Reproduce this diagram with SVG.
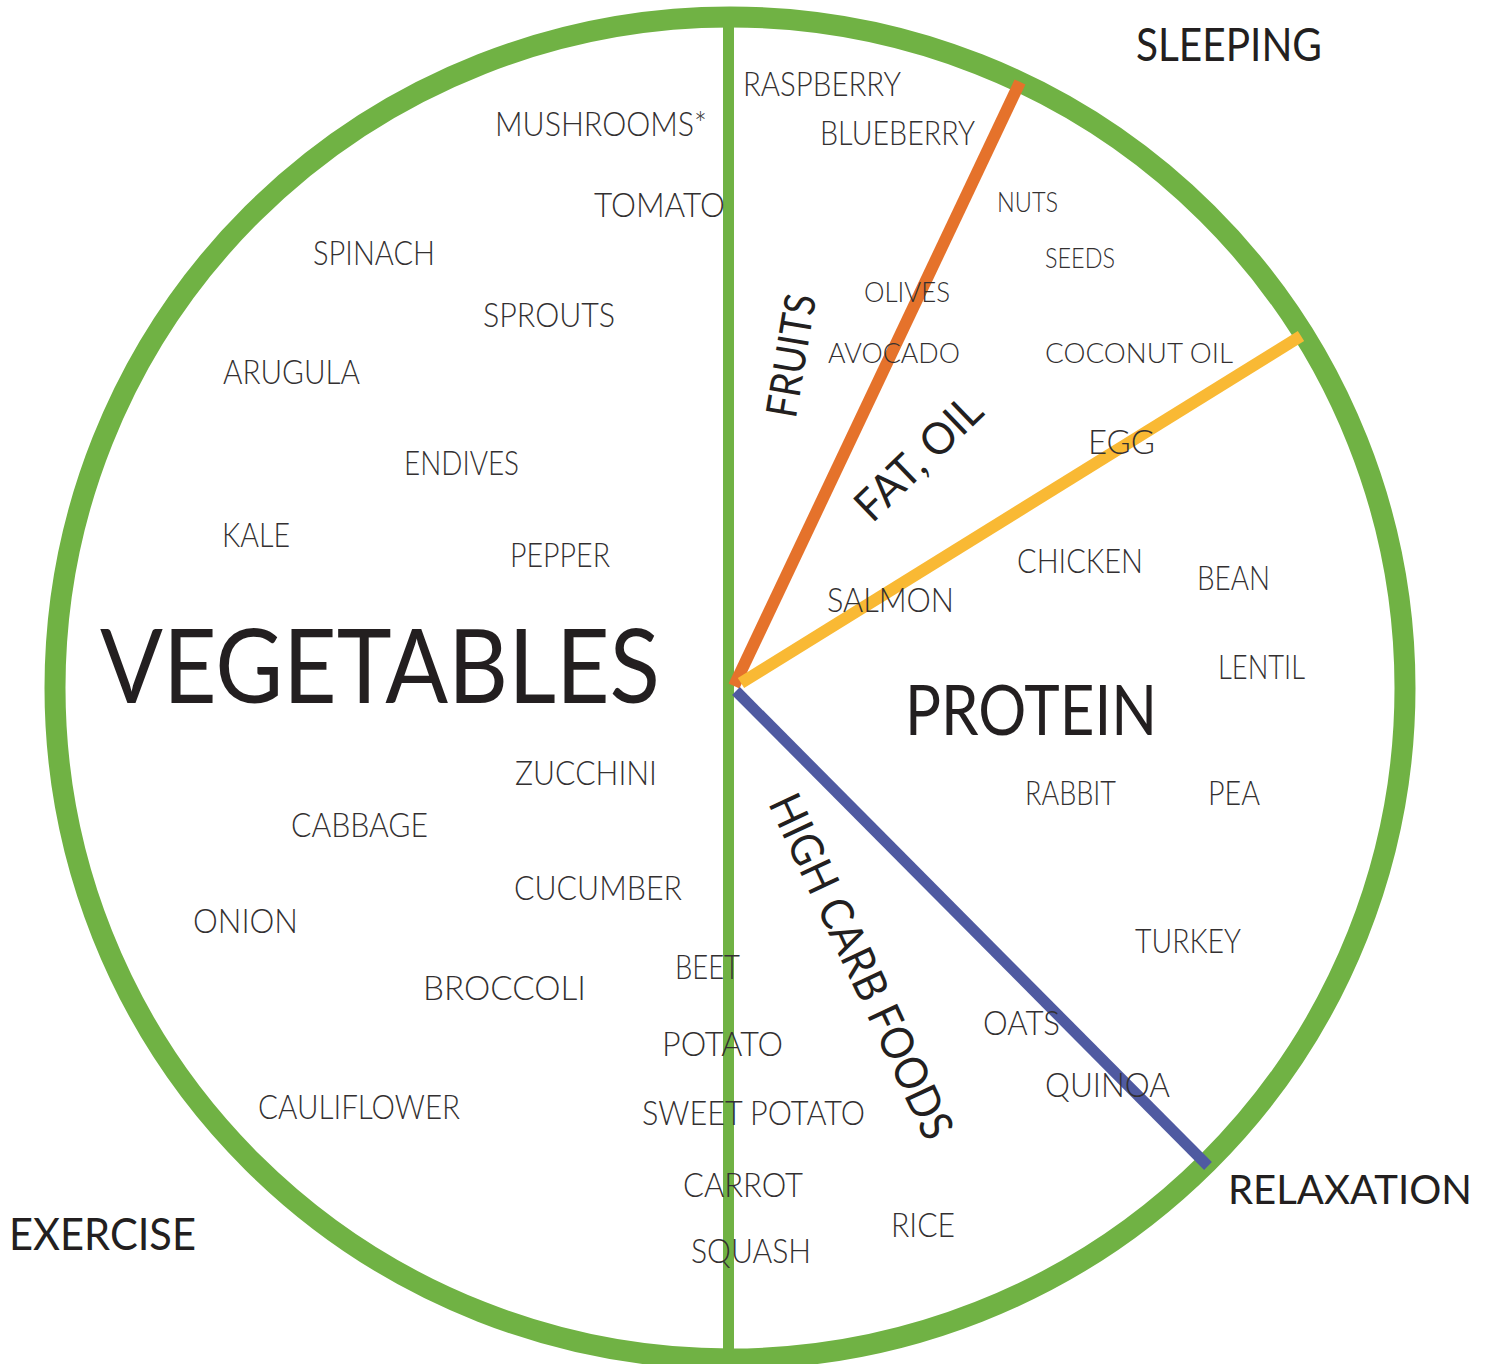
<svg xmlns="http://www.w3.org/2000/svg" width="1485" height="1364" viewBox="0 0 1485 1364">
<style>
.item{font-family:Lato,"Liberation Sans",sans-serif;font-weight:300;font-size:33px;fill:#333031;}
.sm{font-size:28px;}
.head{font-family:Lato,"Liberation Sans",sans-serif;font-weight:400;fill:#231f20;}
.ring{fill:none;stroke:#70b244;stroke-width:21;}
.div{fill:none;stroke-linecap:butt;}
</style>
<rect width="1485" height="1364" fill="#ffffff"/>
<g id="plate">
<ellipse class="ring" cx="730" cy="688" rx="675" ry="671"/>
</g>
<g id="connectors">
<line class="div" x1="728.5" y1="17" x2="728.5" y2="1359" stroke="#70b244" stroke-width="11"/>
<line class="div" x1="734" y1="686" x2="1020" y2="82" stroke="#e5722b" stroke-width="12"/>
<line class="div" x1="741" y1="683" x2="1301" y2="336" stroke="#f9b934" stroke-width="12"/>
<line class="div" x1="736" y1="691" x2="1208" y2="1166" stroke="#4f5aa1" stroke-width="11"/>
</g>
<g id="vegetables">
<text class="head" x="100" y="703" font-size="102" textLength="560" lengthAdjust="spacingAndGlyphs">VEGETABLES</text>
<text class="item" x="495" y="136" textLength="212" lengthAdjust="spacingAndGlyphs">MUSHROOMS*</text>
<text class="item" x="594" y="217" textLength="131" lengthAdjust="spacingAndGlyphs">TOMATO</text>
<text class="item" x="313" y="265" textLength="122" lengthAdjust="spacingAndGlyphs">SPINACH</text>
<text class="item" x="483" y="327" textLength="132" lengthAdjust="spacingAndGlyphs">SPROUTS</text>
<text class="item" x="223" y="384" textLength="137" lengthAdjust="spacingAndGlyphs">ARUGULA</text>
<text class="item" x="404" y="475" textLength="115" lengthAdjust="spacingAndGlyphs">ENDIVES</text>
<text class="item" x="222" y="547" textLength="68" lengthAdjust="spacingAndGlyphs">KALE</text>
<text class="item" x="510" y="567" textLength="100" lengthAdjust="spacingAndGlyphs">PEPPER</text>
<text class="item" x="515" y="785" textLength="142" lengthAdjust="spacingAndGlyphs">ZUCCHINI</text>
<text class="item" x="291" y="837" textLength="137" lengthAdjust="spacingAndGlyphs">CABBAGE</text>
<text class="item" x="514" y="900" textLength="168" lengthAdjust="spacingAndGlyphs">CUCUMBER</text>
<text class="item" x="193" y="933" textLength="105" lengthAdjust="spacingAndGlyphs">ONION</text>
<text class="item" x="423" y="1000" textLength="163" lengthAdjust="spacingAndGlyphs">BROCCOLI</text>
<text class="item" x="258" y="1119" textLength="202" lengthAdjust="spacingAndGlyphs">CAULIFLOWER</text>
</g>
<g id="fruits">
<text class="head" transform="translate(806,358) rotate(-80.5)" text-anchor="middle" font-size="43" textLength="124" lengthAdjust="spacingAndGlyphs">FRUITS</text>
<text class="item" x="743" y="96" textLength="158" lengthAdjust="spacingAndGlyphs">RASPBERRY</text>
<text class="item" x="820" y="145" textLength="155" lengthAdjust="spacingAndGlyphs">BLUEBERRY</text>
</g>
<g id="fat-oil">
<text class="head" transform="translate(929,469) rotate(-44)" text-anchor="middle" font-size="44" textLength="158" lengthAdjust="spacingAndGlyphs">FAT, OIL</text>
<text class="item sm" x="997" y="212" textLength="61" lengthAdjust="spacingAndGlyphs">NUTS</text>
<text class="item sm" x="1045" y="268" textLength="70" lengthAdjust="spacingAndGlyphs">SEEDS</text>
<text class="item sm" x="864" y="302" textLength="86" lengthAdjust="spacingAndGlyphs">OLIVES</text>
<text class="item sm" x="828" y="363" textLength="132" lengthAdjust="spacingAndGlyphs">AVOCADO</text>
<text class="item sm" x="1045" y="363" textLength="188" lengthAdjust="spacingAndGlyphs">COCONUT OIL</text>
</g>
<g id="protein">
<text class="head" x="905" y="735" font-size="70" textLength="252" lengthAdjust="spacingAndGlyphs">PROTEIN</text>
<text class="item" x="1088" y="454" textLength="67" lengthAdjust="spacingAndGlyphs">EGG</text>
<text class="item" x="1017" y="573" textLength="126" lengthAdjust="spacingAndGlyphs">CHICKEN</text>
<text class="item" x="1197" y="590" textLength="73" lengthAdjust="spacingAndGlyphs">BEAN</text>
<text class="item" x="827" y="612" textLength="127" lengthAdjust="spacingAndGlyphs">SALMON</text>
<text class="item" x="1218" y="679" textLength="87" lengthAdjust="spacingAndGlyphs">LENTIL</text>
<text class="item" x="1025" y="805" textLength="91" lengthAdjust="spacingAndGlyphs">RABBIT</text>
<text class="item" x="1208" y="805" textLength="52" lengthAdjust="spacingAndGlyphs">PEA</text>
<text class="item" x="1135" y="953" textLength="106" lengthAdjust="spacingAndGlyphs">TURKEY</text>
</g>
<g id="high-carb">
<text class="head" transform="translate(847,973) rotate(65)" text-anchor="middle" font-size="45" textLength="375" lengthAdjust="spacingAndGlyphs">HIGH CARB FOODS</text>
<text class="item" x="675" y="979" textLength="65" lengthAdjust="spacingAndGlyphs">BEET</text>
<text class="item" x="983" y="1035" textLength="77" lengthAdjust="spacingAndGlyphs">OATS</text>
<text class="item" x="662" y="1056" textLength="121" lengthAdjust="spacingAndGlyphs">POTATO</text>
<text class="item" x="1045" y="1097" textLength="125" lengthAdjust="spacingAndGlyphs">QUINOA</text>
<text class="item" x="642" y="1125" textLength="223" lengthAdjust="spacingAndGlyphs">SWEET POTATO</text>
<text class="item" x="683" y="1197" textLength="120" lengthAdjust="spacingAndGlyphs">CARROT</text>
<text class="item" x="891" y="1237" textLength="64" lengthAdjust="spacingAndGlyphs">RICE</text>
<text class="item" x="691" y="1263" textLength="120" lengthAdjust="spacingAndGlyphs">SQUASH</text>
</g>
<g id="sleeping">
<text class="head" x="1136" y="61" font-size="46" font-weight="700" textLength="186" lengthAdjust="spacingAndGlyphs">SLEEPING</text>
</g>
<g id="relaxation">
<text class="head" x="1472" y="1204" text-anchor="end" font-size="40" font-weight="700" textLength="244" lengthAdjust="spacingAndGlyphs">RELAXATION</text>
</g>
<g id="exercise">
<text class="head" x="9" y="1250" font-size="45" font-weight="700" textLength="187" lengthAdjust="spacingAndGlyphs">EXERCISE</text>
</g>
</svg>
